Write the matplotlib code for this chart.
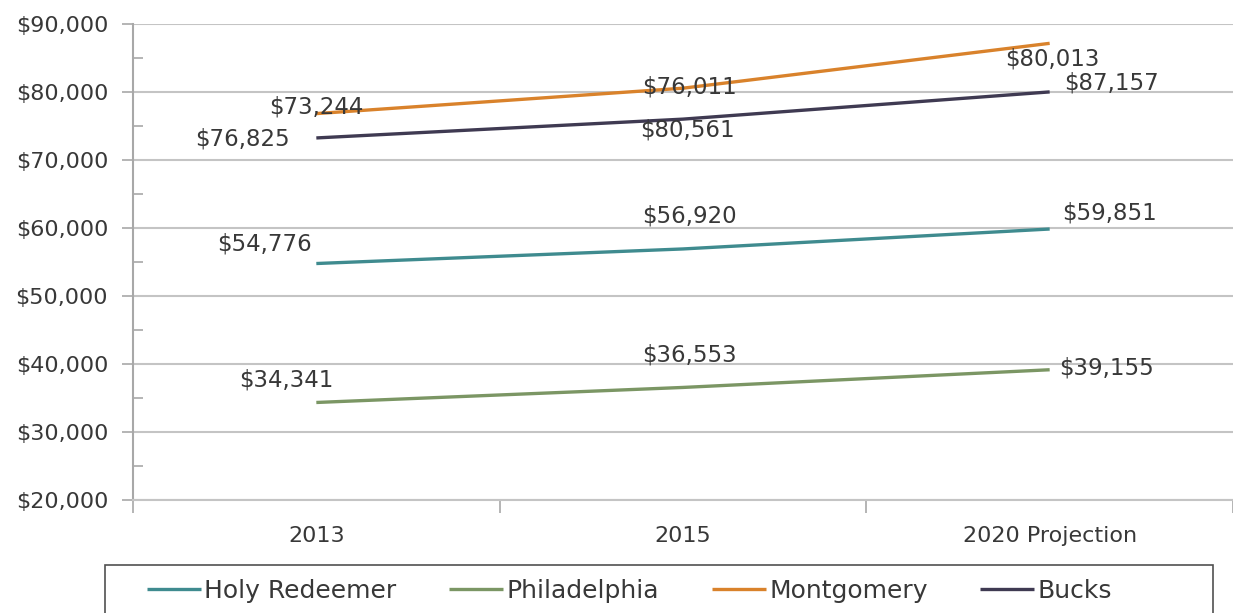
import matplotlib.pyplot as plt
import numpy as np
from matplotlib.patches import Rectangle
from matplotlib.ticker import FixedLocator, FuncFormatter

plt.rcParams["font.family"] = ["DejaVu Sans"]

CATEGORIES = ["2013", "2015", "2020 Projection"]
SERIES = ["Holy Redeemer", "Philadelphia", "Montgomery", "Bucks"]
COLORS = ["#3f8b8f", "#7b9664", "#d9822b", "#3f3a52"]

HOLY_REDEEMER = [54776, 56920, 59851]
PHILADELPHIA = [34341, 36553, 39155]
MONTGOMERY = [76825, 80561, 87157]
BUCKS = [73244, 76011, 80013]

# data label texts as printed in the chart
LBL_HOLY = ["$54,776", "$56,920", "$59,851"]
LBL_PHILA = ["$34,341", "$36,553", "$39,155"]
LBL_MONT = ["$73,244", "$76,011", "$80,013"]
LBL_BUCKS = ["$76,825", "$80,561", "$87,157"]

# label offsets in pixels (dx, dy) relative to each point
OFF_HOLY = [(-52, 20), (6, 33), (60, 16)]
OFF_PHILA = [(-30, 22), (6, 32), (57, 2)]
OFF_MONT = [(0, 7), (6, 1), (3, -16)]
OFF_BUCKS = [(-74, -1), (4, -11), (62, 9)]

TEXT = "#383838"
GRID = "#c4c4c4"

fig = plt.figure(figsize=(12.33, 6.13), dpi=100)
ax = fig.add_axes([133 / 1233, 1 - 500 / 613, 1 - 133 / 1233, (500 - 24) / 613])

x = np.arange(len(CATEGORIES))
data = [HOLY_REDEEMER, PHILADELPHIA, MONTGOMERY, BUCKS]
labels = [LBL_HOLY, LBL_PHILA, LBL_MONT, LBL_BUCKS]
offsets = [OFF_HOLY, OFF_PHILA, OFF_MONT, OFF_BUCKS]

for name, vals, col, lbls, offs in zip(SERIES, data, COLORS, labels, offsets):
    ax.plot(x, vals, color=col, lw=2.4, label=name, solid_capstyle="butt", zorder=3)
    for xi, v, t, (dx, dy) in zip(x, vals, lbls, offs):
        ax.annotate(t, (xi, v), xytext=(dx, dy), textcoords="offset pixels",
                    ha="center", va="center", fontsize=16.5, color=TEXT, zorder=4)

ax.set_xlim(-0.5, 2.5)
ax.set_ylim(20000, 90000)
ax.yaxis.set_major_locator(FixedLocator(np.arange(20000, 90001, 10000)))
ax.yaxis.set_minor_locator(FixedLocator(np.arange(25000, 90000, 10000)))
ax.yaxis.set_major_formatter(FuncFormatter(lambda v, p: f"${v:,.0f}"))
ax.grid(axis="y", color=GRID, lw=1.5, zorder=0)

ax.xaxis.set_major_locator(FixedLocator([-0.5, 0.5, 1.5, 2.5]))
ax.xaxis.set_major_formatter(FuncFormatter(lambda v, p: ""))
ax.xaxis.set_minor_locator(FixedLocator(x))
ax.set_xticklabels(CATEGORIES, minor=True)

ax.tick_params(axis="y", which="major", direction="out", length=8, width=1.2,
               color="#a8a8a8", labelsize=16, labelcolor=TEXT, pad=10)
ax.tick_params(axis="y", which="minor", direction="in", length=7, width=1.2,
               color="#a8a8a8")
ax.tick_params(axis="x", which="major", direction="out", length=9, width=1.2,
               color="#a8a8a8")
ax.tick_params(axis="x", which="minor", length=0, labelsize=16, labelcolor=TEXT, pad=19)

for s in ["top", "right"]:
    ax.spines[s].set_visible(False)
ax.spines["left"].set_color("#a8a8a8")
ax.spines["bottom"].set_color(GRID)
ax.spines["left"].set_linewidth(1.5)
ax.spines["bottom"].set_linewidth(1.5)

# legend box runs off the bottom edge, as in the original
fig.patches.append(Rectangle((105 / 1233, -0.05), 1108 / 1233, 0.05 + 1 - 565 / 613,
                             transform=fig.transFigure, fill=False,
                             edgecolor="#505050", lw=1.2))
fig.legend(loc="center left", bbox_to_anchor=(147 / 1233, 1 - 591 / 613),
           ncol=4, fontsize=18, frameon=False, borderpad=0, borderaxespad=0,
           handlelength=2.15, handletextpad=0.15, columnspacing=2.1,
           labelcolor=TEXT)

fig.savefig("out.png", dpi=100)
